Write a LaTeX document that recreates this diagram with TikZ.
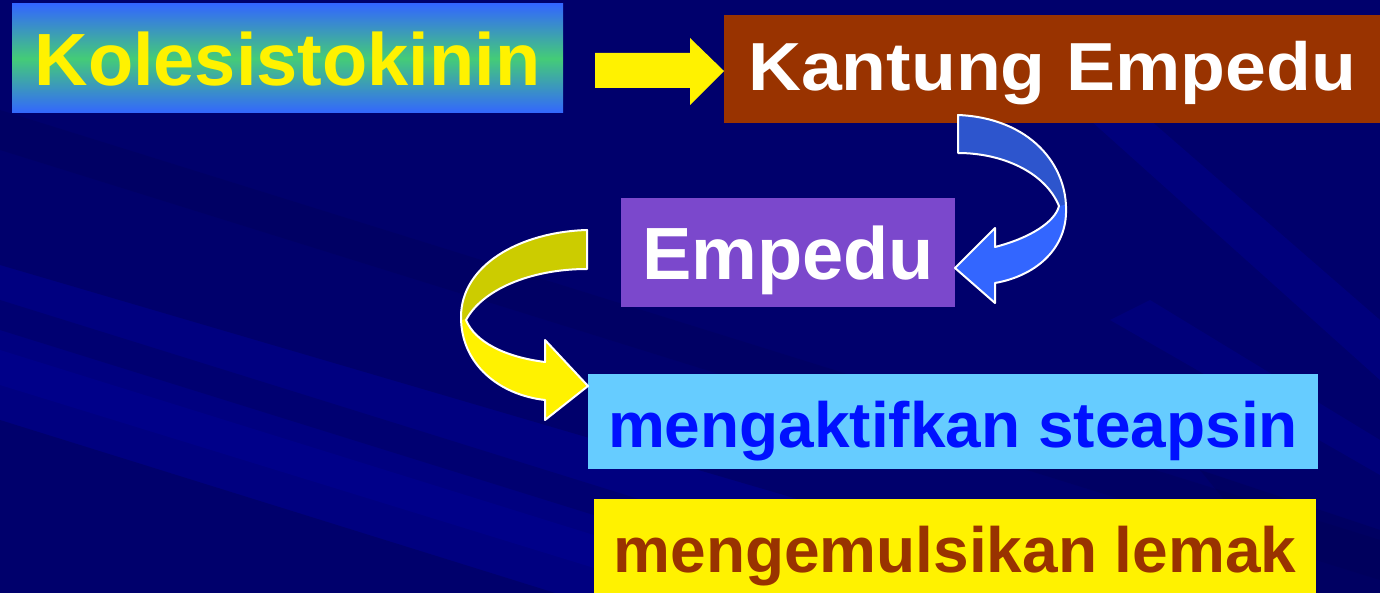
\documentclass[tikz,border=0pt]{standalone}
\usepackage{fontspec}
\setmainfont{Liberation Sans}
\usetikzlibrary{calc}
\definecolor{bgnavy}{RGB}{0,0,128}
\definecolor{bgstreak}{RGB}{0,0,155}
\definecolor{bgdark}{RGB}{0,0,80}
\definecolor{kolblue}{RGB}{51,102,255}
\definecolor{kolgreen}{RGB}{68,204,119}
\definecolor{brownbox}{RGB}{153,51,0}
\definecolor{purplebox}{RGB}{123,72,204}
\definecolor{skybox}{RGB}{102,204,255}
\definecolor{txtblue}{RGB}{0,17,255}
\definecolor{arrdarkblue}{RGB}{45,85,205}
\definecolor{arrblue}{RGB}{51,102,255}
\definecolor{arrolive}{RGB}{204,204,0}
\begin{document}
\begin{tikzpicture}[x=1pt,y=-1pt,
  box/.style={inner sep=0pt, outer sep=0pt, anchor=base, align=center, font=\bfseries},
  bigtxt/.style={font=\fontsize{74}{74}\selectfont\bfseries},
  midtxt/.style={font=\fontsize{64}{64}\selectfont\bfseries},
  ribbon/.style={draw=white, line width=2pt, line join=round},
  darkstreak/.style={fill=bgdark},
  lightstreak/.style={fill=bgstreak}]
\useasboundingbox (0,0) rectangle (1380,593);
% background with diagonal streaks
\begin{scope}
\clip (0,0) rectangle (1380,593);
\fill[bgnavy] (0,0) rectangle (1380,593);
\fill[darkstreak, opacity=0.4] (0,0) -- (1380,0) -- (1380,670) -- (0,265) -- cycle;
\fill[darkstreak, opacity=0.25] (0,110) -- (1380,540) -- (1380,580) -- (0,150) -- cycle;
\fill[darkstreak, opacity=0.3] (0,300) -- (1380,730) -- (1380,760) -- (0,330) -- cycle;
\fill[lightstreak, opacity=0.35] (0,350) -- (1380,780) -- (1380,810) -- (0,385) -- cycle;
\fill[darkstreak, opacity=0.4] (0,420) -- (1380,850) -- (1380,900) -- (0,900) -- cycle;
\fill[lightstreak, opacity=0.35] (1090,120) -- (1150,120) -- (1380,320) -- (1380,380) -- cycle;
\fill[lightstreak, opacity=0.3] (1150,300) -- (1380,440) -- (1380,475) -- (1110,320) -- cycle;
\fill[darkstreak, opacity=0.35] (1200,470) -- (1380,530) -- (1380,593) -- (1300,593) -- cycle;
\end{scope}
% boxes
\node[box, bigtxt, text=yellow, top color=kolblue, bottom color=kolblue, middle color=kolgreen,
  minimum width=551pt, text height=82pt, text depth=27pt] (kol) at (287.5,86) {Kolesistokinin};
\node[box, fill=brownbox, text=white, minimum width=656pt, text height=76pt, text depth=32pt,
  font=\fontsize{68}{68}\selectfont\bfseries] (kant) at (1052,91) {\scalebox{1.08}[1]{Kantung Empedu}};
\node[box, bigtxt, fill=purplebox, text=white, minimum width=334pt, text height=82pt, text depth=27pt]
  (emp) at (788,280) {Empedu};
\node[box, midtxt, fill=skybox, text=txtblue, minimum width=730pt, text height=73pt, text depth=22pt]
  (ste) at (953,447) {mengaktifkan steapsin};
\node[box, midtxt, fill=yellow, text=brownbox, minimum width=722pt, text height=73pt, text depth=22pt]
  (lem) at (955,572) {mengemulsikan lemak};
% straight arrow Kolesistokinin -> Kantung Empedu
\coordinate (tip1) at (kant.west |- 0,71);
\fill[yellow] ($(tip1)+(-129,-18)$) -- ($(tip1)+(-34,-18)$) -- ($(tip1)+(-34,-33)$) -- (tip1)
  -- ($(tip1)+(-34,34)$) -- ($(tip1)+(-34,17)$) -- ($(tip1)+(-129,17)$) -- cycle;
% curved arrow Kantung Empedu -> Empedu
\def\bluepath{(958,115) .. controls (1030,118) and (1068,165) .. (1066,213)
  .. controls (1065,250) and (1035,276) .. (995,283) -- (995,303) -- (emp.east |- 0,268) -- (995,228) -- (995,247)
  .. controls (1030,238) and (1055,222) .. (1059,206) .. controls (1045,172) and (1002,153) .. (958,153) -- cycle}
\fill[arrblue] \bluepath;
\begin{scope}
\clip (940,100) -- (1080,100) -- (1080,200) -- (1040,212) -- (940,212) -- cycle;
\fill[arrdarkblue] \bluepath;
\end{scope}
\draw[ribbon] \bluepath;
% curved arrow Empedu -> mengaktifkan steapsin
\def\yelpath{(587,230) .. controls (520,232) and (461,265) .. (461,317)
  .. controls (461,365) and (500,395) .. (545,400) -- (545,420) -- (ste.west |- 0,386) -- (545,340) -- (545,362)
  .. controls (505,357) and (475,342) .. (466,320) .. controls (482,290) and (530,269) .. (587,269) -- cycle}
\fill[yellow] \yelpath;
\begin{scope}
\clip (440,220) -- (600,220) -- (600,300) -- (470,318) -- (440,325) -- cycle;
\fill[arrolive] \yelpath;
\end{scope}
\draw[ribbon] \yelpath;
\end{tikzpicture}
\end{document}
